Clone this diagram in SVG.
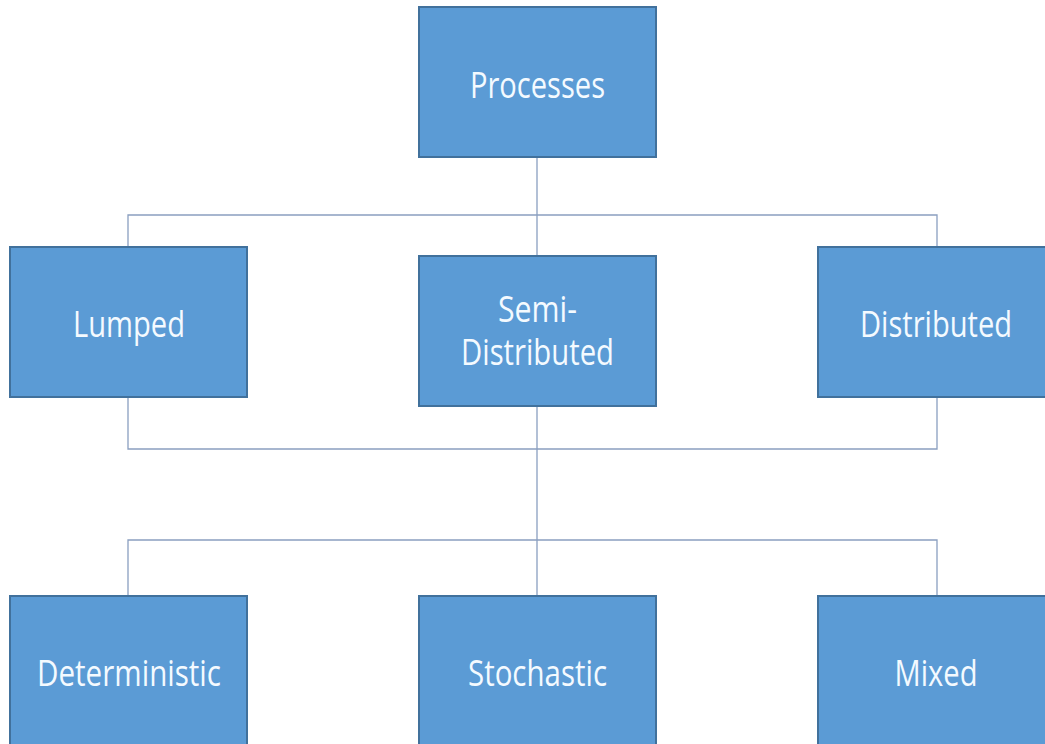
<svg xmlns="http://www.w3.org/2000/svg" width="1045" height="744" viewBox="0 0 1045 744">
<style>
.box{fill:#5b9bd5;stroke:#41719c;stroke-width:2}
.lbl{font-family:"Open Sans","Noto Sans",sans-serif;font-size:37px;fill:#f4faff;text-anchor:middle}
.conn{fill:none;stroke:#8a9fc0;stroke-width:1.3}
</style>
<rect width="1045" height="744" fill="#ffffff"/>
<g id="connectors">
<path class="conn" d="M537 157V256M128 247V215H937V247"/>
<path class="conn" d="M128 397V449H937V397"/>
<path class="conn" d="M537 406V596M128 596V540H937V596"/>
</g>
<g id="processes"><rect class="box" x="419" y="7" width="237" height="150"/><text class="lbl" x="537.5" y="98" textLength="135" lengthAdjust="spacingAndGlyphs">Processes</text></g>
<g id="lumped"><rect class="box" x="10" y="247" width="237" height="150"/><text class="lbl" x="129" y="337" textLength="112" lengthAdjust="spacingAndGlyphs">Lumped</text></g>
<g id="semi"><rect class="box" x="419" y="256" width="237" height="150"/><text class="lbl" x="537.5" y="322" textLength="79" lengthAdjust="spacingAndGlyphs">Semi-</text><text class="lbl" x="537.5" y="365" textLength="153" lengthAdjust="spacingAndGlyphs">Distributed</text></g>
<g id="distributed"><rect class="box" x="818" y="247" width="237" height="150"/><text class="lbl" x="936" y="337" textLength="152" lengthAdjust="spacingAndGlyphs">Distributed</text></g>
<g id="deterministic"><rect class="box" x="10" y="596" width="237" height="150"/><text class="lbl" x="129" y="686" textLength="184" lengthAdjust="spacingAndGlyphs">Deterministic</text></g>
<g id="stochastic"><rect class="box" x="419" y="596" width="237" height="150"/><text class="lbl" x="537.5" y="686" textLength="139" lengthAdjust="spacingAndGlyphs">Stochastic</text></g>
<g id="mixed"><rect class="box" x="818" y="596" width="237" height="150"/><text class="lbl" x="936" y="686" textLength="83" lengthAdjust="spacingAndGlyphs">Mixed</text></g>
</svg>
